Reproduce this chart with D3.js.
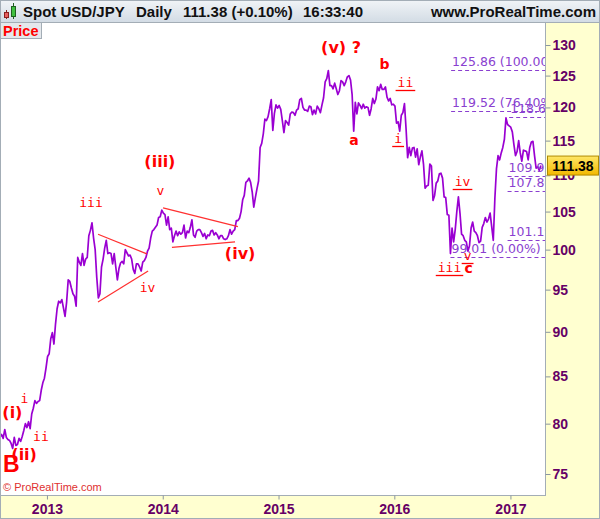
<!DOCTYPE html>
<html><head><meta charset="utf-8">
<script src="https://cdn.jsdelivr.net/npm/d3@7"></script>
<style>html,body{margin:0;padding:0;background:#fff;}svg{display:block;}</style>
</head><body><svg id="c" width="600" height="519"></svg>
<script>
// ---------- DATA ----------
const startDate = "2012-08-06";
const stepDays = 5;
const prices = [
// 2012 Aug..Dec
78.6, 78.9, 78.5, 79.4, 78.6, 78.4,
78.3, 78.0, 77.5, 78.6, 77.8, 77.9,
78.5, 78.2, 78.7, 79.3, 80.0, 79.6,
80.2, 79.5, 81.0, 81.6, 82.4, 82.1,
82.3, 82.4, 83.5, 84.3, 84.8, 85.9,
// 2013
87.2, 87.5, 89.2, 89.9, 88.6, 90.9,
92.7, 93.6, 93.4, 93.8, 92.8, 91.8,
93.5, 96.2, 96.0, 95.2, 94.5, 94.2,
93.0, 99.0, 98.4, 98.0, 99.5, 98.0,
98.8, 99.0, 101.8, 102.5, 103.5, 101.5,
100.0, 96.5, 94.0, 94.5, 97.8, 98.8,
100.2, 101.2, 99.5, 99.6, 99.5, 98.2,
99.5, 97.8, 96.2, 97.6, 98.3, 98.5,
98.2, 100.0, 99.6, 99.2, 99.3, 98.8,
97.5, 97.0, 98.2, 98.2, 97.8, 97.3,
98.4, 98.6, 99.0, 99.8, 100.2, 101.5,
102.4, 102.6, 102.9, 103.2, 104.2, 104.3, 105.2,
// 2014
104.8, 104.6, 103.2, 104.3, 102.6, 102.8,
101.0, 101.8, 102.4, 101.8, 102.3, 102.0,
102.2, 103.2, 101.5, 102.4, 102.2, 102.9,
103.9, 101.9, 101.6, 102.4, 102.6, 102.6,
102.2, 101.7, 102.1, 101.4, 101.9, 101.8,
102.4, 102.5, 101.9, 102.2, 101.9, 101.4,
101.8, 101.8, 101.4, 101.3, 101.4, 101.8,
102.6, 102.0, 102.4, 102.6, 103.8, 103.8,
104.1, 105.0, 106.6, 107.2, 109.0, 109.2,
109.6, 109.0, 107.7, 105.6, 106.9, 108.1,
109.2, 114.0, 114.6, 116.0, 118.2, 118.0,
118.6, 119.8, 121.2, 116.5, 119.1, 120.4, 119.9,
// 2015
120.3, 119.7, 118.0, 116.2, 118.0, 117.7,
117.3, 119.0, 119.3, 119.2, 118.8, 119.6,
119.8, 121.2, 121.4, 120.0, 119.6, 119.6,
119.4, 120.2, 120.1, 118.9, 119.6, 119.0,
120.2, 119.8, 119.2, 120.4, 121.5, 124.0,
124.5, 125.8, 123.4, 123.4, 122.9, 123.8,
122.9, 122.0, 122.6, 124.2, 124.0, 123.4,
124.0, 124.8, 125.0, 124.3, 122.0, 116.4,
120.8, 119.0, 120.7, 120.3, 119.8, 120.5,
119.9, 120.1, 120.0, 118.8, 119.8, 121.4,
120.6, 121.3, 123.2, 122.6, 123.6, 122.8,
122.8, 123.2, 121.6, 121.0, 121.4, 120.4, 120.5,
// 2016
120.2, 117.6, 117.8, 116.4, 118.8, 119.2,
120.6, 116.8, 112.5, 114.0, 112.8, 113.9,
114.0, 112.6, 113.8, 111.5, 112.6, 113.5,
111.6, 108.2, 108.5, 108.6, 111.6, 111.3,
106.5, 107.2, 108.9, 109.2, 110.2, 110.3,
109.6, 107.0, 106.9, 104.6, 104.5, 99.5,
102.8, 101.0, 102.6, 105.0, 107.0, 104.8,
102.0, 101.8, 101.2, 101.0, 99.8, 100.5,
102.8, 103.6, 102.4, 102.2, 101.8, 100.9,
101.1, 102.9, 103.4, 104.2, 103.6, 104.0,
104.8, 103.0, 101.2, 106.8, 110.9, 112.8,
112.2, 113.2, 114.0, 115.2, 118.4, 117.4, 117.2,
// 2017
117.0, 116.3, 114.4, 112.8, 113.4, 115.0,
113.2, 112.0, 113.6, 113.5, 113.4, 112.2,
114.0, 114.8, 114.9, 112.8, 111.0, 111.2,
110.7, 111.38
];
const priceTicks = [75, 80, 85, 90, 95, 100, 105, 110, 115, 120, 125, 130];
const yearTicks = ["2013-01-01", "2014-01-01", "2015-01-01", "2016-01-01", "2017-01-01"];
const lastPrice = 111.38;

// Elliott wave labels: text, date, price, degree, underlined
const waveLabels = [
  {t:"(i)",   d:"2012-09-14", p:80.59,  g:"minor"},
  {t:"i",     d:"2012-10-22", p:82.16,  g:"minute"},
  {t:"ii",    d:"2012-12-13", p:78.25,  g:"minute"},
  {t:"(ii)",  d:"2012-10-21", p:76.37,  g:"minor"},
  {t:"B",     d:"2012-09-11", p:75.20,  g:"major"},
  {t:"iii",   d:"2013-05-20", p:105.63, g:"minute"},
  {t:"iv",    d:"2013-11-14", p:94.76,  g:"minute"},
  {t:"v",     d:"2013-12-25", p:107.26, g:"minute"},
  {t:"(iii)", d:"2013-12-23", p:111.18, g:"minor"},
  {t:"(iv)",  d:"2014-09-02", p:98.82,  g:"minor"},
  {t:"(v) ?", d:"2015-07-17", p:128.68, g:"minor"},
  {t:"b",     d:"2015-12-01", p:126.07, g:"letter"},
  {t:"a",     d:"2015-08-27", p:114.37, g:"letter"},
  {t:"ii",    d:"2016-02-05", p:123.24, g:"minuette", u:true},
  {t:"i",     d:"2016-01-13", p:114.70, g:"minuette", u:true},
  {t:"iv",    d:"2016-08-03", p:108.51, g:"minuette", u:true},
  {t:"iii",   d:"2016-06-23", p:97.22,  g:"minuette", u:true},
  {t:"v",     d:"2016-08-19", p:98.69,  g:"minuette", u:true},
  {t:"c",     d:"2016-08-22", p:97.02,  g:"letter"}
];

// triangle trend lines: [date1, price1, date2, price2]
const trendLines = [
  ["2013-06-11", 102.0, "2013-11-12", 99.45],
  ["2013-06-11", 93.5,  "2013-11-16", 97.3],
  ["2014-01-02", 105.5, "2014-08-26", 103.0],
  ["2014-01-30", 100.3, "2014-08-17", 101.0]
];

// Fibonacci levels
const fibLevels = [125.86, 119.52, 118.60, 109.92, 107.80, 101.19, 99.01];
const fibLabels = ["125.86 (100.00%)", "119.52 (76.40%)", "118.60", "109.92", "107.80", "101.19", "99.01 (0.00%)"];
const fibStarts = ["2016-06-28", "2016-06-28", "2016-12-28", "2016-12-23", "2016-12-23", "2016-12-23", "2016-06-26"];

// ---------- CHART ----------
const W = 600, H = 519;
const plotL = 0, plotR = 545, plotT = 22, plotB = 495;
const parse = d3.timeParse("%Y-%m-%d");
const t0 = parse(startDate);
const series = prices.map((p, i) => ({date: d3.timeDay.offset(t0, i * stepDays), p}));

const x = d3.scaleTime().domain([parse("2012-08-06"), parse("2017-04-20")]).range([plotL, plotR]);
const y = d3.scaleLog().domain([75, 130]).range([474, 45]);

const svg = d3.select("#c");
const defs = svg.append("defs");
const hg = defs.append("linearGradient").attr("id","hg").attr("x1",0).attr("y1",0).attr("x2",0).attr("y2",1);
hg.append("stop").attr("offset","0%").attr("stop-color","#f1f4f7");
hg.append("stop").attr("offset","100%").attr("stop-color","#d3dce5");
const gg = defs.append("linearGradient").attr("id","gg").attr("x1",0).attr("y1",0).attr("x2",0).attr("y2",1);
gg.append("stop").attr("offset","0%").attr("stop-color","#ffe766");
gg.append("stop").attr("offset","100%").attr("stop-color","#f2b800");
defs.append("clipPath").attr("id","clip").append("rect")
  .attr("x",plotL).attr("y",plotT).attr("width",plotR-plotL).attr("height",plotB-plotT);

// backgrounds
svg.append("rect").attr("x",0).attr("y",0).attr("width",W).attr("height",H).attr("fill","#ffffff");
svg.append("rect").attr("x",plotR).attr("y",plotT).attr("width",W-plotR).attr("height",H-plotT).attr("fill","#ffffd0");
svg.append("rect").attr("x",0).attr("y",plotB).attr("width",W).attr("height",H-plotB).attr("fill","#ffffd0");
svg.append("rect").attr("x",plotL+0.5).attr("y",plotT+0.5).attr("width",plotR-plotL).attr("height",plotB-plotT)
  .attr("fill","#ffffff").attr("stroke","#a3adb6");

// header
svg.append("rect").attr("x",0).attr("y",0).attr("width",W).attr("height",plotT).attr("fill","url(#hg)");
svg.append("line").attr("x1",0).attr("x2",W).attr("y1",plotT+0.5).attr("y2",plotT+0.5).attr("stroke","#a3adb6");
// candle icon
svg.append("line").attr("x1",6.5).attr("x2",6.5).attr("y1",10).attr("y2",19).attr("stroke","#8a2020");
svg.append("rect").attr("x",4.5).attr("y",12.5).attr("width",4).attr("height",5).attr("fill","#e86060").attr("stroke","#8a2020");
svg.append("line").attr("x1",13.5).attr("x2",13.5).attr("y1",3).attr("y2",19).attr("stroke","#206020");
svg.append("rect").attr("x",11.5).attr("y",6.5).attr("width",4).attr("height",10).attr("fill","#40c040").attr("stroke","#206020");
const hFont = "'Liberation Sans', Arial, sans-serif";
const header = [["Spot USD/JPY", 23], ["Daily", 136], ["111.38 (+0.10%)", 183], ["16:33:40", 303]];
header.forEach(([t, hx]) => svg.append("text").attr("x", hx).attr("y", 17).text(t)
  .attr("font-family", hFont).attr("font-weight","bold").attr("font-size","15px").attr("fill","#111"));
svg.append("text").attr("x", 596).attr("y", 17).attr("text-anchor","end").text("www.ProRealTime.com")
  .attr("font-family", hFont).attr("font-weight","bold").attr("font-size","15px").attr("fill","#111");

// plot content (clipped)
const plot = svg.append("g").attr("clip-path","url(#clip)");

// fib levels
const fibColor = "#8a3fd0";
fibLevels.forEach((lv, i) => {
  const fx = x(parse(fibStarts[i]));
  plot.append("line").attr("x1", fx).attr("x2", plotR).attr("y1", Math.round(y(lv))+0.5).attr("y2", Math.round(y(lv))+0.5)
    .attr("stroke", fibColor).attr("stroke-width",1.2).attr("stroke-dasharray","4,3");
});

// price line
plot.append("path").datum(series)
  .attr("d", d3.line().x(d => x(d.date)).y(d => y(d.p)))
  .attr("fill","none").attr("stroke","#9a00d2").attr("stroke-width",1.7).attr("stroke-linejoin","round");

// fib labels on top
fibLevels.forEach((lv, i) => {
  const fx = x(parse(fibStarts[i]));
  plot.append("text").attr("x", fx + 1).attr("y", y(lv) - 4).text(fibLabels[i])
    .attr("font-family","'DejaVu Sans', sans-serif").attr("font-size","12.5px").attr("fill", fibColor);
});

// trend lines
trendLines.forEach(([d1,p1,d2,p2]) => {
  plot.append("line").attr("x1", x(parse(d1))).attr("y1", y(p1)).attr("x2", x(parse(d2))).attr("y2", y(p2))
    .attr("stroke","#ff3030").attr("stroke-width",1.2);
});

// wave labels
const degreeStyle = {
  major:   {f:"'Liberation Sans', Arial, sans-serif", s:"23px", w:"bold"},
  minor:   {f:"'DejaVu Sans', sans-serif", s:"16px", w:"bold"},
  letter:  {f:"'DejaVu Sans', sans-serif", s:"14px", w:"bold"},
  minute:  {f:"'DejaVu Sans Mono', monospace", s:"13px", w:"normal"},
  minuette:{f:"'DejaVu Sans Mono', monospace", s:"13px", w:"normal"}
};
waveLabels.forEach(l => {
  const st = degreeStyle[l.g];
  const lx = x(parse(l.d)), ly = y(l.p);
  const tx = plot.append("text").attr("x", lx).attr("y", ly).attr("text-anchor","middle").text(l.t)
    .attr("font-family", st.f).attr("font-size", st.s).attr("font-weight", st.w).attr("fill","#ff0000");
  if (l.u) {
    const w = tx.node().getComputedTextLength();
    plot.append("line").attr("x1", lx - w/2 - 2).attr("x2", lx + w/2 + 2)
      .attr("y1", Math.round(ly) + 3.5).attr("y2", Math.round(ly) + 3.5)
      .attr("stroke","#ff0000").attr("stroke-width",1.3);
  }
});

// price tag "Price"
svg.append("rect").attr("x",0.5).attr("y",plotT+0.5).attr("width",41).attr("height",16).attr("fill","#e4e8ec").attr("stroke","#a3adb6");
svg.append("text").attr("x",3).attr("y",plotT+14).text("Price")
  .attr("font-family", hFont).attr("font-weight","bold").attr("font-size","14.5px").attr("fill","#ff0000");

// copyright
svg.append("text").attr("x",3).attr("y",491).text("© ProRealTime.com")
  .attr("font-family", hFont).attr("font-size","11px").attr("fill","#e03030");

// y axis
const axColor = "#660066";
const ya = svg.append("g").attr("transform", `translate(${plotR+0.5},0)`)
  .call(d3.axisRight(y).tickValues(priceTicks).tickSize(5).tickPadding(2).tickFormat(d3.format("d")));
ya.select(".domain").remove();
ya.selectAll("line").attr("stroke","#8a96a0");
ya.selectAll("text").attr("font-family", hFont).attr("font-weight","bold").attr("font-size","14px").attr("fill", axColor);

// x axis
const xa = svg.append("g").attr("transform", `translate(0,${plotB+0.5})`)
  .call(d3.axisBottom(x).tickValues(yearTicks.map(parse)).tickSize(4).tickPadding(5).tickFormat(d3.timeFormat("%Y")));
xa.select(".domain").remove();
xa.selectAll("line").attr("stroke","#8a96a0");
xa.selectAll("text").attr("font-family", hFont).attr("font-weight","bold").attr("font-size","14px").attr("fill", axColor);

// last price box
const ly = y(lastPrice);
svg.append("rect").attr("x", plotR+2.5).attr("y", ly-9.5).attr("width", 51).attr("height", 19)
  .attr("fill","url(#gg)").attr("stroke","#b08a00");
svg.append("text").attr("x", plotR+28).attr("y", ly+5.5).attr("text-anchor","middle").text(lastPrice.toFixed(2))
  .attr("font-family", hFont).attr("font-weight","bold").attr("font-size","14px").attr("fill","#000");

// outer border
svg.append("rect").attr("x",0.5).attr("y",0.5).attr("width",W-1).attr("height",H-1).attr("fill","none").attr("stroke","#a3adb6");
</script>
</body></html>
